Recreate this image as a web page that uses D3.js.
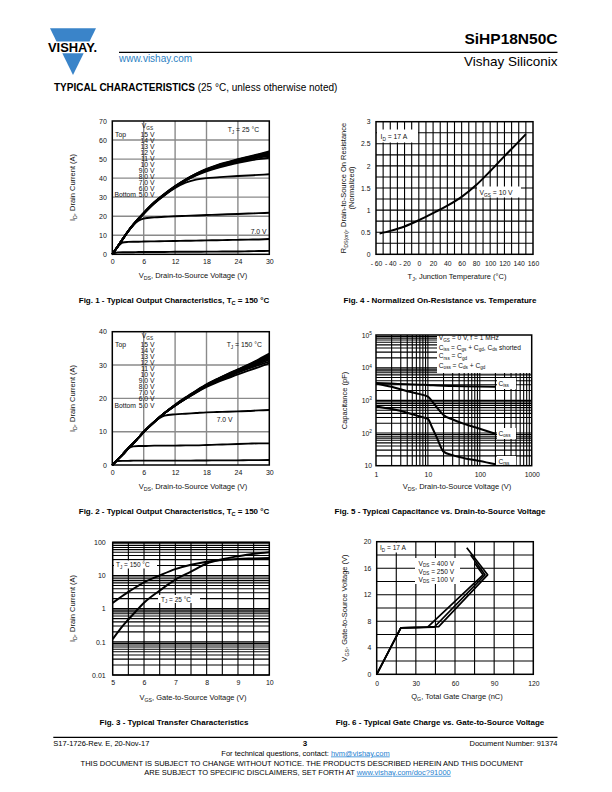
<!DOCTYPE html>
<html><head><meta charset="utf-8">
<script src="https://cdn.jsdelivr.net/npm/d3@7"></script>
<style>
body{margin:0;background:#fff}
svg{display:block}
text{font-family:"Liberation Sans",Arial,Helvetica,sans-serif}
</style>
</head><body>
<svg id="page" width="612" height="792"></svg>
<script>
// ---------------- DATA ----------------
// Fig. 1 - output characteristics, TJ = 25 °C
const fig1Vds = [0,1,2,3,4,5,6,8,10,12,14,16,18,20,22,24,26,28,30];
const fig1Labels = ["15 V","14 V","13 V","12 V","11 V","10 V","9.0 V","8.0 V","7.0 V","6.0 V","5.0 V"];
const fig1Id = [
  [0,4,8.1,12.1,15.7,18.8,21.8,27.3,31.8,35.8,39.3,42.3,44.8,46.8,48.4,49.9,51.3,52.6,54.0],
  [0,4,8,12,15.6,18.7,21.7,27.2,31.7,35.7,39.2,42.2,44.6,46.6,48.2,49.7,51.0,52.3,53.5],
  [0,4,8,12,15.5,18.6,21.6,27.1,31.6,35.6,39.1,42.1,44.5,46.4,48.0,49.4,50.7,51.9,53.0],
  [0,4,8,12,15.5,18.5,21.5,27.0,31.5,35.5,39.0,41.9,44.3,46.2,47.8,49.2,50.4,51.6,52.6],
  [0,4,8,12,15.5,18.5,21.5,27.0,31.4,35.4,38.9,41.8,44.1,46.0,47.5,48.9,50.1,51.2,52.2],
  [0,4,8,12,15.4,18.4,21.4,26.9,31.3,35.3,38.8,41.6,43.9,45.7,47.2,48.5,49.7,50.8,51.6],
  [0,4,8,12,15.4,18.4,21.4,26.8,31.2,35.2,38.6,41.4,43.6,45.3,46.7,48.0,49.1,50.0,50.7],
  [0,4,8,12,15.4,18.4,21.3,26.7,31.0,34.8,37.6,39.2,40.0,40.4,40.8,41.1,41.4,41.7,42.0],
  [0,4,8,12,15.3,17.6,18.8,19.4,19.7,20.0,20.2,20.4,20.6,20.8,21.0,21.2,21.4,21.6,21.8],
  [0,3.8,6.2,6.5,6.6,6.6,6.7,6.8,6.9,7.0,7.1,7.2,7.3,7.4,7.5,7.6,7.7,7.8,8.0],
  [0,1.0,1.1,1.1,1.1,1.2,1.2,1.2,1.2,1.3,1.3,1.3,1.4,1.4,1.5,1.5,1.6,1.7,1.8]
];
const fig1XTicks = [0,6,12,18,24,30];
const fig1YTicks = [0,10,20,30,40,50,60,70];

// Fig. 2 - output characteristics, TJ = 150 °C
const fig2Vds = [0,1,2,3,4,5,6,8,10,12,14,16,18,20,22,24,26,28,30];
const fig2Labels = ["15 V","14 V","13 V","12 V","11 V","10 V","9.0 V","8.0 V","7.0 V","6.0 V","5.0 V"];
const fig2Id = [
  [0,1.6,3.2,4.9,6.5,8.2,9.9,12.9,15.6,18.1,20.3,22.3,24.2,25.8,27.3,28.7,30.1,31.7,33.4],
  [0,1.6,3.2,4.9,6.5,8.2,9.9,12.9,15.6,18.0,20.2,22.2,24.1,25.7,27.2,28.6,30.0,31.5,33.0],
  [0,1.6,3.2,4.9,6.5,8.2,9.9,12.9,15.6,18.0,20.1,22.1,24.0,25.6,27.1,28.5,29.8,31.2,32.6],
  [0,1.6,3.2,4.9,6.5,8.2,9.9,12.9,15.6,17.9,20.0,22.0,23.9,25.5,27.0,28.4,29.7,31.0,32.3],
  [0,1.6,3.2,4.9,6.5,8.2,9.9,12.9,15.6,17.9,20.0,21.9,23.8,25.4,26.9,28.2,29.5,30.8,32.0],
  [0,1.6,3.2,4.9,6.5,8.2,9.9,12.9,15.6,17.9,19.9,21.9,23.7,25.3,26.7,28.0,29.2,30.4,31.6],
  [0,1.6,3.2,4.9,6.5,8.2,9.9,12.9,15.6,17.8,19.9,21.8,23.6,25.1,26.4,27.7,28.9,30.0,31.0],
  [0,1.6,3.2,4.9,6.5,8.2,9.9,12.9,15.6,17.8,19.8,21.7,23.4,24.8,26.0,27.2,28.3,29.4,30.5],
  [0,1.6,3.2,4.9,6.5,8.2,9.9,12.9,14.8,15.2,15.4,15.6,15.8,15.9,16.0,16.1,16.2,16.4,16.5],
  [0,1.6,3.2,4.9,5.6,5.7,5.7,5.8,5.8,5.8,5.9,5.9,6.0,6.1,6.2,6.3,6.4,6.5,6.5],
  [0,1.2,1.25,1.25,1.3,1.3,1.3,1.3,1.3,1.3,1.3,1.35,1.35,1.4,1.4,1.4,1.45,1.45,1.5]
];
const fig2XTicks = [0,6,12,18,24,30];
const fig2YTicks = [0,10,20,30,40];

// Fig. 3 - transfer characteristics
const fig3Vgs = [5,5.25,5.5,5.75,6,6.5,7,7.5,8,8.5,9,9.5,10];
const fig3Id25 = [0.12,0.25,0.47,0.85,1.5,3.5,7.5,13,23,31,38,45,50];
const fig3Id150 = [1.5,2.2,3.2,4.5,6.2,10,15.5,21,26,29.5,31.5,32.5,33.5];
const fig3XTicks = [5,6,7,8,9,10];
const fig3YTicks = [0.01,0.1,1,10,100];

// Fig. 4 - normalized on-resistance vs temperature
const fig4Tj = [-55,-40,-20,0,20,40,60,80,100,120,140,150];
const fig4Rds = [0.47,0.53,0.63,0.77,0.93,1.1,1.3,1.56,1.88,2.22,2.55,2.72];
const fig4XTicks = [-60,-40,-20,0,20,40,60,80,100,120,140,160];
const fig4YTicks = [0,0.5,1,1.5,2,2.5,3];

// Fig. 5 - capacitance vs VDS
const fig5Vds = [1,2,4,7,10,12,15,20,30,50,100,200];
const fig5Ciss = [3400,3250,3100,3000,2950,2900,2850,2800,2750,2700,2650,2600];
const fig5Coss = [3300,2600,1900,1550,1300,950,600,355,260,190,135,95];
const fig5Crss = [650,540,420,320,270,150,70,27,21,17,14,11];
const fig5XTicks = [1,10,100,1000];
const fig5YTicks = [10,100,1000,10000,100000];

// Fig. 6 - gate charge
const fig6Q400 = [0,18.5,47.5,85,69];
const fig6V400 = [0,7,7.2,15,19.1];
const fig6Q250 = [0,18.5,44,83,72];
const fig6V250 = [0,7,7.1,15,18];
const fig6Q100 = [0,18.5,39,81.5,75.3];
const fig6V100 = [0,7,7.1,15,16.7];
const fig6XTicks = [0,30,60,90,120];
const fig6YTicks = [0,4,8,12,16,20];

// ---------------- HELPERS ----------------
const svg = d3.select('#page');
const INK = '#111';

function rich(sel, str, fs) {
  const parts = str.split(/(_\{[^}]*\}|\^\{[^}]*\})/).filter(s => s.length);
  let shift = 0;
  parts.forEach(p => {
    let type = 'n', t = p;
    if (p.startsWith('_{')) { type = 's'; t = p.slice(2, -1); }
    else if (p.startsWith('^{')) { type = 'p'; t = p.slice(2, -1); }
    const target = type === 's' ? fs * 0.3 : type === 'p' ? -fs * 0.4 : 0;
    const ts = sel.append('tspan').text(t);
    if (target - shift !== 0) ts.attr('dy', target - shift);
    if (type !== 'n') ts.attr('font-size', fs * 0.7);
    shift = target;
  });
}
function addText(g, x, y, str, o = {}) {
  const fs = o.fs || 7;
  const t = g.append('text').attr('x', x).attr('y', y).attr('font-size', fs)
    .attr('fill', o.fill || INK).attr('text-anchor', o.anchor || 'start');
  if (o.bold) t.attr('font-weight', 'bold');
  if (o.rotate) t.attr('transform', `rotate(${o.rotate},${x},${y})`);
  rich(t, str, fs);
  return t;
}
function whiteBox(g, x, y, w, h) {
  g.append('rect').attr('x', x).attr('y', y).attr('width', w).attr('height', h).attr('fill', '#fff');
}
function logGrid(lo, hi) {
  const out = [];
  for (let e = Math.round(Math.log10(lo)); e < Math.round(Math.log10(hi)); e++)
    for (let k = 1; k <= 9; k++) out.push(k * Math.pow(10, e));
  out.push(hi);
  return out;
}

function makeChart(o) {
  const g = svg.append('g');
  const x = (o.xLog ? d3.scaleLog() : d3.scaleLinear()).domain(o.xDomain).range([o.left, o.right]);
  const y = (o.yLog ? d3.scaleLog() : d3.scaleLinear()).domain(o.yDomain).range([o.bottom, o.top]);
  g.append('g').selectAll('line').data(o.xGrid).join('line')
    .attr('x1', d => x(d)).attr('x2', d => x(d)).attr('y1', o.top).attr('y2', o.bottom)
    .attr('stroke', o.gridColor).attr('stroke-width', o.gridWidth);
  g.append('g').selectAll('line').data(o.yGrid).join('line')
    .attr('y1', d => y(d)).attr('y2', d => y(d)).attr('x1', o.left).attr('x2', o.right)
    .attr('stroke', o.gridColor).attr('stroke-width', o.gridWidth);
  const ax = g.append('g').attr('transform', `translate(0,${o.bottom})`)
    .call(d3.axisBottom(x).tickValues(o.xTicks).tickSize(0).tickPadding(o.xPad).tickFormat(o.xFmt || (d => d)));
  ax.select('.domain').remove();
  ax.attr('font-size', null).attr('font-family', null);
  ax.selectAll('text').attr('font-size', o.tickFs).attr('fill', INK);
  const ay = g.append('g').attr('transform', `translate(${o.left},0)`)
    .call(d3.axisLeft(y).tickValues(o.yTicks).tickSize(0).tickPadding(o.yPad).tickFormat(o.yRich ? () => '' : (o.yFmt || (d => d))));
  ay.select('.domain').remove();
  ay.attr('font-size', null).attr('font-family', null);
  ay.selectAll('text').attr('font-size', o.tickFs).attr('fill', INK);
  if (o.yRich) ay.selectAll('.tick text').each(function (d) { rich(d3.select(this), o.yRich(d), o.tickFs); });
  const curves = g.append('g');
  const labels = g.append('g');
  const frame = () => g.append('rect').attr('x', o.left).attr('y', o.top)
    .attr('width', o.right - o.left).attr('height', o.bottom - o.top)
    .attr('fill', 'none').attr('stroke', '#000').attr('stroke-width', 1.5);
  return { g, x, y, curves, labels, frame };
}
function drawLine(c, xs, ys, w, curve) {
  const pts = xs.map((v, i) => [v, ys[i]]);
  const line = d3.line().x(d => c.x(d[0])).y(d => c.y(d[1])).curve(curve || d3.curveMonotoneX);
  c.curves.append('path').attr('d', line(pts)).attr('fill', 'none')
    .attr('stroke', '#000').attr('stroke-width', w).attr('stroke-linejoin', 'round');
}

// ---------------- HEADER ----------------
const BLUE = '#3a84c9';
const hdr = svg.append('g');
hdr.append('polygon').attr('points', '50,28.3 96,28.3 89.5,41.5 56.5,41.5').attr('fill', BLUE);
hdr.append('polygon').attr('points', '62.3,53.3 83.7,53.3 73,75').attr('fill', BLUE);
hdr.append('text').attr('x', 48).attr('y', 51.8).attr('font-size', 12.5).attr('font-weight', 'bold')
  .attr('textLength', 49).attr('lengthAdjust', 'spacingAndGlyphs').attr('fill', '#000').text('VISHAY.');
hdr.append('line').attr('x1', 119).attr('x2', 557.5).attr('y1', 52.3).attr('y2', 52.3).attr('stroke', '#000').attr('stroke-width', 1.3);
addText(hdr, 119, 61.7, 'www.vishay.com', { fs: 10, fill: '#2d7fc3' });
addText(hdr, 557.5, 43.5, 'SiHP18N50C', { fs: 15.5, bold: true, anchor: 'end', fill: '#000' });
addText(hdr, 557.5, 66, 'Vishay Siliconix', { fs: 13.5, anchor: 'end', fill: '#000' });
const tc = hdr.append('text').attr('x', 54).attr('y', 90.5).attr('font-size', 10).attr('fill', '#000');
tc.append('tspan').attr('font-weight', 'bold').text('TYPICAL CHARACTERISTICS');
tc.append('tspan').text(' (25 °C, unless otherwise noted)');

// ---------------- FIG 1 ----------------
{
  const c = makeChart({ left: 112.3, right: 269.3, top: 121, bottom: 254.3,
    xDomain: [0, 30], yDomain: [0, 70], xGrid: [6, 12, 18, 24], yGrid: [10, 20, 30, 40, 50, 60],
    gridColor: '#8a8a8a', gridWidth: 1.4, xTicks: fig1XTicks, yTicks: fig1YTicks,
    tickFs: 7, xPad: 4.8, yPad: 5.5 });
  fig1Id.forEach(s => drawLine(c, fig1Vds, s, 1.9));
  const L = c.labels;
  addText(L, 141.7, 127.5, 'V_{GS}', { fs: 6.8 });
  addText(L, 115, 136.8, 'Top', { fs: 6.8 });
  fig1Labels.forEach((t, i) => addText(L, 154.5, 136.8 + i * 6.03, t, { fs: 6.8, anchor: 'end' }));
  addText(L, 114.5, 196.8, 'Bottom', { fs: 6.8 });
  addText(L, 227.7, 131.7, 'T_{J} = 25 °C', { fs: 6.8 });
  addText(L, 250.7, 234.4, '7.0 V', { fs: 6.8 });
  c.frame();
  addText(svg, 193, 277.5, 'V_{DS}, Drain-to-Source Voltage (V)', { fs: 7.5, anchor: 'middle' });
  addText(svg, 75, 187.5, 'I_{D}, Drain Current (A)', { fs: 7.5, anchor: 'middle', rotate: -90 });
  addText(svg, 174, 303, 'Fig. 1 - Typical Output Characteristics, T_{C} = 150 °C', { fs: 8, bold: true, anchor: 'middle', fill: '#000' });
}

// ---------------- FIG 2 ----------------
{
  const c = makeChart({ left: 112.3, right: 269.3, top: 331.7, bottom: 465,
    xDomain: [0, 30], yDomain: [0, 40], xGrid: [6, 12, 18, 24], yGrid: [10, 20, 30],
    gridColor: '#8a8a8a', gridWidth: 1.4, xTicks: fig2XTicks, yTicks: fig2YTicks,
    tickFs: 7, xPad: 4.8, yPad: 5.5 });
  fig2Id.forEach(s => drawLine(c, fig2Vds, s, 1.9));
  const L = c.labels;
  addText(L, 141.7, 337.5, 'V_{GS}', { fs: 6.8 });
  addText(L, 115, 346.8, 'Top', { fs: 6.8 });
  fig2Labels.forEach((t, i) => addText(L, 154.5, 346.8 + i * 6.07, t, { fs: 6.8, anchor: 'end' }));
  addText(L, 114.5, 407.5, 'Bottom', { fs: 6.8 });
  addText(L, 226.7, 346.5, 'T_{J} = 150 °C', { fs: 6.8 });
  addText(L, 216.7, 421.5, '7.0 V', { fs: 6.8 });
  c.frame();
  addText(svg, 193, 488.5, 'V_{DS}, Drain-to-Source Voltage (V)', { fs: 7.5, anchor: 'middle' });
  addText(svg, 75, 398.5, 'I_{D}, Drain Current (A)', { fs: 7.5, anchor: 'middle', rotate: -90 });
  addText(svg, 174, 513.5, 'Fig. 2 - Typical Output Characteristics, T_{C} = 150 °C', { fs: 8, bold: true, anchor: 'middle', fill: '#000' });
}

// ---------------- FIG 3 ----------------
{
  const c = makeChart({ left: 112.7, right: 269.3, top: 542.3, bottom: 675,
    xDomain: [5, 10], yDomain: [0.01, 100], yLog: true,
    xGrid: [5.5, 6, 6.5, 7, 7.5, 8, 8.5, 9, 9.5], yGrid: logGrid(0.01, 100),
    gridColor: '#000', gridWidth: 1.1, xTicks: fig3XTicks, yTicks: fig3YTicks,
    yFmt: d => String(d), tickFs: 7, xPad: 4.8, yPad: 7 });
  drawLine(c, fig3Vgs, fig3Id150, 2);
  drawLine(c, fig3Vgs, fig3Id25, 2);
  const L = c.labels;
  whiteBox(L, 114, 560.5, 43, 8);
  addText(L, 116, 567, 'T_{J} = 150 °C', { fs: 6.5 });
  whiteBox(L, 158, 595, 42, 8);
  addText(L, 161, 601.5, 'T_{J} = 25 °C', { fs: 6.5 });
  c.frame();
  addText(svg, 193, 700, 'V_{GS}, Gate-to-Source Voltage (V)', { fs: 7.5, anchor: 'middle' });
  addText(svg, 75, 608.5, 'I_{D}, Drain Current (A)', { fs: 7.5, anchor: 'middle', rotate: -90 });
  addText(svg, 174, 724.5, 'Fig. 3 - Typical Transfer Characteristics', { fs: 8, bold: true, anchor: 'middle', fill: '#000' });
}

// ---------------- FIG 4 ----------------
{
  const xg = d3.range(-50, 160, 10);
  const yg = d3.range(0.25, 3, 0.25);
  const c = makeChart({ left: 376, right: 533, top: 121.7, bottom: 254.3,
    xDomain: [-60, 160], yDomain: [0, 3], xGrid: xg, yGrid: yg,
    gridColor: '#000', gridWidth: 1.1, xTicks: fig4XTicks, yTicks: fig4YTicks,
    xFmt: d => d < 0 ? '- ' + (-d) : String(d), yFmt: d3.format('~g'),
    tickFs: 6.8, xPad: 7.3, yPad: 5.5 });
  drawLine(c, fig4Tj, fig4Rds, 2);
  const L = c.labels;
  whiteBox(L, 377, 129.5, 41, 13);
  addText(L, 380.5, 139, 'I_{D} = 17 A', { fs: 6.8 });
  whiteBox(L, 477, 186.5, 44, 11);
  addText(L, 479.5, 194.5, 'V_{GS} = 10 V', { fs: 6.8 });
  c.frame();
  addText(svg, 457, 278.5, 'T_{J}, Junction Temperature (°C)', { fs: 7.5, anchor: 'middle' });
  addText(svg, 345.8, 188, 'R_{DS(on)}, Drain-to-Source On Resistance', { fs: 7.5, anchor: 'middle', rotate: -90 });
  addText(svg, 354.3, 188, '(Normalized)', { fs: 7.5, anchor: 'middle', rotate: -90 });
  addText(svg, 440, 303, 'Fig. 4 - Normalized On-Resistance vs. Temperature', { fs: 8, bold: true, anchor: 'middle', fill: '#000' });
}

// ---------------- FIG 5 ----------------
{
  const c = makeChart({ left: 376, right: 531.7, top: 335, bottom: 465.7,
    xDomain: [1, 1000], yDomain: [10, 100000], xLog: true, yLog: true,
    xGrid: logGrid(1, 1000).slice(1, -1), yGrid: logGrid(10, 100000).slice(1, -1),
    gridColor: '#000', gridWidth: 1.1, xTicks: fig5XTicks, yTicks: fig5YTicks,
    xFmt: d => String(d), yRich: d => d === 10 ? '10' : '10^{' + Math.round(Math.log10(d)) + '}',
    tickFs: 6.8, xPad: 6.2, yPad: 4 });
  drawLine(c, fig5Vds, fig5Ciss, 2);
  drawLine(c, fig5Vds, fig5Coss, 2);
  drawLine(c, fig5Vds, fig5Crss, 2);
  const L = c.labels;
  whiteBox(L, 437, 335, 94.7, 38);
  addText(L, 438.8, 340, 'V_{GS} = 0 V, f = 1 MHz', { fs: 6.6 });
  addText(L, 438.8, 349.5, 'C_{iss} = C_{gs} + C_{gd}, C_{ds} shorted', { fs: 6.6 });
  addText(L, 438.8, 358, 'C_{rss} = C_{gd}', { fs: 6.6 });
  addText(L, 438.8, 367.5, 'C_{oss} = C_{ds} + C_{gd}', { fs: 6.6 });
  whiteBox(L, 497, 378, 19, 11);
  addText(L, 498.5, 385.5, 'C_{iss}', { fs: 6.6 });
  whiteBox(L, 497, 428, 19, 11);
  addText(L, 498.5, 435.5, 'C_{oss}', { fs: 6.6 });
  whiteBox(L, 497, 456, 19, 11);
  addText(L, 498.5, 463.5, 'C_{rss}', { fs: 6.6 });
  c.frame();
  addText(svg, 457, 489, 'V_{DS}, Drain-to-Source Voltage (V)', { fs: 7.5, anchor: 'middle' });
  addText(svg, 346.5, 400.5, 'Capacitance (pF)', { fs: 7.5, anchor: 'middle', rotate: -90 });
  addText(svg, 440, 513.5, 'Fig. 5 - Typical Capacitance vs. Drain-to-Source Voltage', { fs: 8, bold: true, anchor: 'middle', fill: '#000' });
}

// ---------------- FIG 6 ----------------
{
  const c = makeChart({ left: 376.7, right: 533.3, top: 541.7, bottom: 674.3,
    xDomain: [0, 120], yDomain: [0, 20], xGrid: d3.range(15, 120, 15), yGrid: d3.range(2, 20, 2),
    gridColor: '#000', gridWidth: 1.1, xTicks: fig6XTicks, yTicks: fig6YTicks,
    tickFs: 6.8, xPad: 7.3, yPad: 5.5 });
  drawLine(c, fig6Q400, fig6V400, 1.7, d3.curveLinear);
  drawLine(c, fig6Q250, fig6V250, 1.7, d3.curveLinear);
  drawLine(c, fig6Q100, fig6V100, 1.7, d3.curveLinear);
  const L = c.labels;
  whiteBox(L, 377.5, 542.5, 33, 10);
  addText(L, 380, 549.8, 'I_{D} = 17 A', { fs: 6.6 });
  whiteBox(L, 415, 558, 45, 26);
  addText(L, 418.5, 565.5, 'V_{DS} = 400 V', { fs: 6.6 });
  addText(L, 418.5, 573.5, 'V_{DS} = 250 V', { fs: 6.6 });
  addText(L, 418.5, 581.5, 'V_{DS} = 100 V', { fs: 6.6 });
  c.frame();
  addText(svg, 457, 699, 'Q_{G}, Total Gate Charge (nC)', { fs: 7.5, anchor: 'middle' });
  addText(svg, 346.5, 608, 'V_{GS}, Gate-to-Source Voltage (V)', { fs: 7.5, anchor: 'middle', rotate: -90 });
  addText(svg, 440, 724.5, 'Fig. 6 - Typical Gate Charge vs. Gate-to-Source Voltage', { fs: 8, bold: true, anchor: 'middle', fill: '#000' });
}

// ---------------- FOOTER ----------------
const ft = svg.append('g');
ft.append('line').attr('x1', 53.3).attr('x2', 557.5).attr('y1', 737.3).attr('y2', 737.3).attr('stroke', '#000').attr('stroke-width', 1.3);
addText(ft, 53.3, 745.5, 'S17-1726-Rev. E, 20-Nov-17', { fs: 7.5, fill: '#000' });
addText(ft, 305, 746, '3', { fs: 8, bold: true, anchor: 'middle', fill: '#000' });
addText(ft, 557.5, 745.5, 'Document Number: 91374', { fs: 7.5, anchor: 'end', fill: '#000' });
const LINK = '#1f7fd0';
const f1 = ft.append('text').attr('x', 305.5).attr('y', 755.5).attr('font-size', 7.5).attr('text-anchor', 'middle').attr('fill', '#000');
f1.append('tspan').text('For technical questions, contact: ');
f1.append('tspan').attr('fill', LINK).attr('text-decoration', 'underline').text('hvm@vishay.com');
addText(ft, 302, 766.3, 'THIS DOCUMENT IS SUBJECT TO CHANGE WITHOUT NOTICE. THE PRODUCTS DESCRIBED HEREIN AND THIS DOCUMENT', { fs: 7.5, anchor: 'middle', fill: '#000' });
const f2 = ft.append('text').attr('x', 297.5).attr('y', 774.8).attr('font-size', 7.5).attr('text-anchor', 'middle').attr('fill', '#000');
f2.append('tspan').text('ARE SUBJECT TO SPECIFIC DISCLAIMERS, SET FORTH AT ');
f2.append('tspan').attr('fill', LINK).attr('text-decoration', 'underline').text('www.vishay.com/doc?91000');
</script>
</body></html>
